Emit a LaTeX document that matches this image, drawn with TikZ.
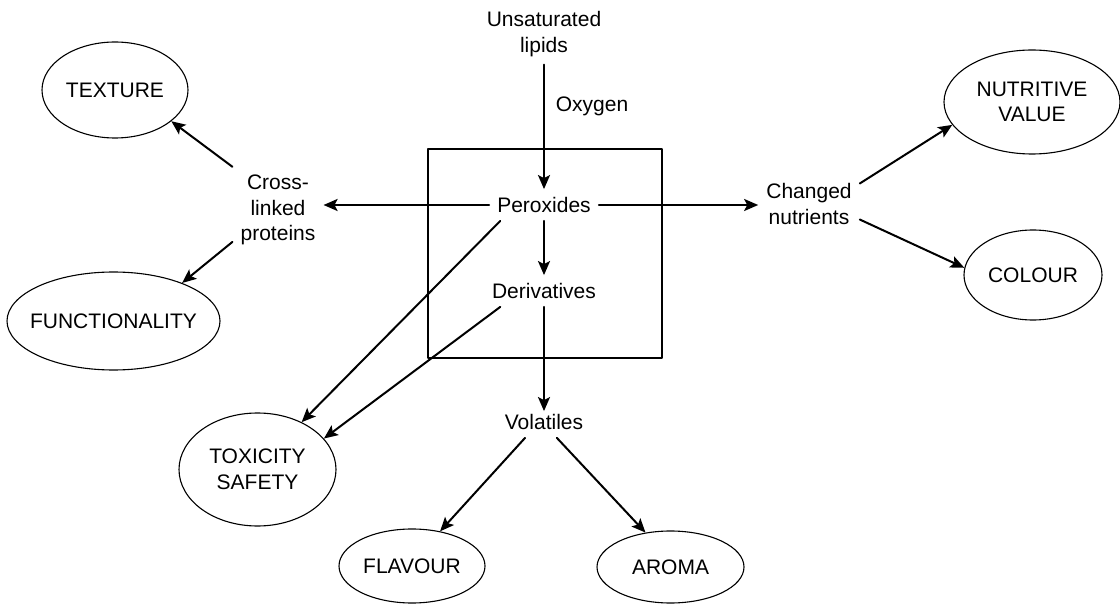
\documentclass[tikz,border=0pt]{standalone}
\usepackage{fontspec}
\setmainfont{Liberation Sans}
\usetikzlibrary{shapes.geometric,arrows.meta}
\begin{document}
\begin{tikzpicture}[x=1pt,y=-1pt,line cap=round,line join=round,
  >={Stealth[length=14pt,width=12pt,inset=3pt]},
  txt/.style={inner sep=8pt,align=center,font=\fontsize{21}{25.5}\selectfont},
  ell/.style={draw,ellipse,line width=1.1pt,inner sep=0pt,align=center,font=\fontsize{21}{25.5}\selectfont},
  arr/.style={->,line width=2pt}]
\useasboundingbox (0,0) rectangle (1120,604);
% oxidation chain
\node[txt] (lipids) at (544,34) {Unsaturated\\lipids};
\node[txt] (oxygen) at (592,106) {Oxygen};
\node[txt] (perox) at (544,205) {Peroxides};
\node[txt] (deriv) at (544,291) {Derivatives};
\node[txt] (volat) at (544,422) {Volatiles};
\node[txt] (cross) at (278,210) {Cross-\\linked\\proteins};
\node[txt] (changed) at (809,204) {Changed\\nutrients};
\draw[line width=1.1pt] (428,149) rectangle (662,358);
% effects on the food
\node[ell,minimum width=146,minimum height=96] (texture) at (115,90) {TEXTURE};
\node[ell,minimum width=213,minimum height=98,inner xsep=-9pt] (function) at (113.5,321) {FUNCTIONALITY};
\node[ell,minimum width=176,minimum height=104] (nutri) at (1032,102) {NUTRITIVE\\VALUE};
\node[ell,minimum width=138,minimum height=90] (colour) at (1033,275) {COLOUR};
\node[ell,minimum width=157,minimum height=113] (toxic) at (257.5,469.5) {TOXICITY\\SAFETY};
\node[ell,minimum width=146,minimum height=74] (flavour) at (412,566) {FLAVOUR};
\node[ell,minimum width=147,minimum height=72] (aroma) at (670.5,567) {AROMA};

\draw[arr] (lipids) -- (perox);
\draw[arr] (perox) -- (deriv);
\draw[arr,shorten >=-5pt] (deriv) -- (volat);
\draw[arr] (perox.west) -- (perox.west -| cross.east);
\draw[arr] (perox.east) -- (perox.east -| changed.west);
\draw[arr] (cross.north west) -- (texture.-29);
\draw[arr] (cross.215) -- (function.29);
\draw[arr] (changed.22) -- (nutri.196);
\draw[arr] (changed.-17) -- (colour.174);
\draw[arr] (perox.200) -- (toxic.47);
\draw[arr] (deriv.200) -- (toxic.25);
\draw[arr] (volat.220) -- (flavour.51);
\draw[arr] (volat.309) -- (aroma.126);
\end{tikzpicture}
\end{document}
